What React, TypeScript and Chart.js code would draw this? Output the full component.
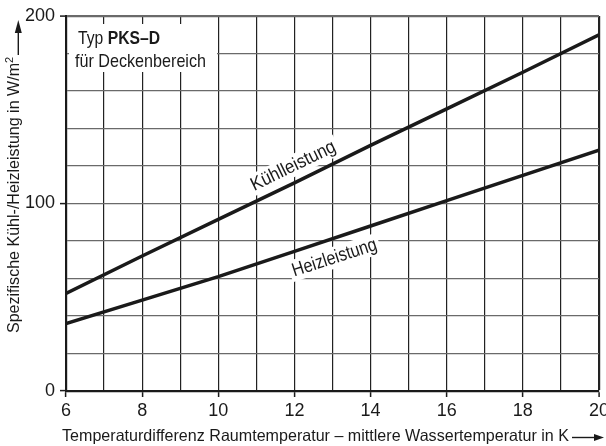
import React, { useEffect, useRef } from 'react';
import { Chart, registerables } from 'chart.js';

Chart.register(...registerables);

// ---- data ----
const xValues = [6, 8, 10, 12, 14, 16, 18, 20];
const kuehlValues = [52, 72, 91.5, 111, 131, 150.5, 170, 190];
const heizValues = [36, 48.5, 61, 74.5, 88, 101.5, 115, 128.5];
const xLabelStep = 2;
const yLabelStep = 100;
const boxTitleRegular = 'Typ ';
const boxTitleBold = 'PKS–D';
const boxSubtitle = 'für Deckenbereich';
const kuehlLabel = 'Kühlleistung';
const heizLabel = 'Heizleistung';
const xTitle = 'Temperaturdifferenz Raumtemperatur – mittlere Wassertemperatur in K';
const yTitle = 'Spezifische Kühl-/Heizleistung in W/m';
const yTitleSup = '2';

const FONT = "'Liberation Sans Narrow', 'Arial Narrow', 'Liberation Sans', Arial, sans-serif";
const INK = '#1a1a1a';

function drawFit(ctx: CanvasRenderingContext2D, text: string, x: number, y: number, targetW: number, font: string, align: CanvasTextAlign) {
  ctx.save();
  ctx.font = font;
  const w = ctx.measureText(text).width;
  const sx = targetW / w;
  ctx.translate(x, y);
  ctx.scale(sx, 1);
  ctx.textAlign = align;
  ctx.textBaseline = 'alphabetic';
  ctx.fillText(text, 0, 0);
  ctx.restore();
}

function interp(xs: number[], ys: number[], x: number) {
  for (let i = 0; i < xs.length - 1; i++) {
    if (x >= xs[i] && x <= xs[i + 1]) {
      const t = (x - xs[i]) / (xs[i + 1] - xs[i]);
      return ys[i] + t * (ys[i + 1] - ys[i]);
    }
  }
  return ys[ys.length - 1];
}

function drawLineLabel(chart: any, text: string, ys: number[], atX: number, offset: number, targetW: number) {
  const ctx: CanvasRenderingContext2D = chart.ctx;
  const xs = chart.scales.x;
  const yS = chart.scales.y;
  const x0 = xs.getPixelForValue(xValues[0]);
  const x1 = xs.getPixelForValue(xValues[xValues.length - 1]);
  const y0 = yS.getPixelForValue(ys[0]);
  const y1 = yS.getPixelForValue(ys[ys.length - 1]);
  const ang = Math.atan2(y1 - y0, x1 - x0);
  const px = xs.getPixelForValue(atX);
  const py = yS.getPixelForValue(interp(xValues, ys, atX));
  const nx = Math.sin(ang);
  const ny = -Math.cos(ang);
  const cx = px + nx * offset;
  const cy = py + ny * offset;
  const capH = 13.5;
  ctx.save();
  ctx.translate(cx, cy);
  ctx.rotate(ang);
  ctx.fillStyle = '#ffffff';
  ctx.fillRect(-targetW / 2 - 3, -capH / 2 - 3, targetW + 6, capH + 8);
  ctx.fillStyle = INK;
  drawFit(ctx, text, 0, capH / 2, targetW, `19px ${FONT}`, 'center');
  ctx.restore();
}

const decorPlugin = {
  id: 'decor',
  beforeDatasetsDraw(chart: any) {
    const ctx: CanvasRenderingContext2D = chart.ctx;
    // info box
    ctx.save();
    ctx.fillStyle = '#ffffff';
    ctx.fillRect(69, 24, 148, 48);
    ctx.fillStyle = INK;
    const regFont = `19px ${FONT}`;
    const boldFont = `bold 19px ${FONT}`;
    const scale = 0.88;
    ctx.font = regFont;
    const wReg = ctx.measureText(boxTitleRegular).width * scale;
    ctx.font = boldFont;
    const wBold = ctx.measureText(boxTitleBold).width * scale;
    const k = 82 / (wReg + wBold);
    drawFit(ctx, boxTitleRegular, 78, 44, wReg * k, regFont, 'left');
    drawFit(ctx, boxTitleBold, 78 + wReg * k, 44, wBold * k, boldFont, 'left');
    drawFit(ctx, boxSubtitle, 75, 67, 131, regFont, 'left');
    ctx.restore();

    drawLineLabel(chart, kuehlLabel, kuehlValues, 12.15, 17, 92);
    drawLineLabel(chart, heizLabel, heizValues, 12.9, -17.5, 88);
  },
  afterDraw(chart: any) {
    const ctx: CanvasRenderingContext2D = chart.ctx;
    ctx.save();
    ctx.fillStyle = INK;
    ctx.strokeStyle = INK;
    // x title
    const tf = `16.5px ${FONT}`;
    drawFit(ctx, xTitle, 62, 441, 507, tf, 'left');
    // x arrow
    ctx.lineWidth = 1.4;
    ctx.beginPath();
    ctx.moveTo(572, 437.5);
    ctx.lineTo(596, 437.5);
    ctx.stroke();
    ctx.beginPath();
    ctx.moveTo(604, 437.5);
    ctx.lineTo(594, 434);
    ctx.lineTo(594, 441);
    ctx.closePath();
    ctx.fill();

    // y title
    ctx.save();
    ctx.translate(18.5, 333);
    ctx.rotate(-Math.PI / 2);
    drawFit(ctx, yTitle, 0, 0, 270, tf, 'left');
    ctx.font = `11px ${FONT}`;
    ctx.textAlign = 'left';
    ctx.fillText(yTitleSup, 270, -6);
    ctx.restore();
    // y arrow
    ctx.beginPath();
    ctx.moveTo(18.3, 55);
    ctx.lineTo(18.3, 30);
    ctx.stroke();
    ctx.beginPath();
    ctx.moveTo(18.3, 20);
    ctx.lineTo(14.8, 33);
    ctx.lineTo(21.8, 33);
    ctx.closePath();
    ctx.fill();
    ctx.restore();
  },
};

export default function App() {
  const ref = useRef<HTMLCanvasElement | null>(null);
  useEffect(() => {
    if (!ref.current) return;
    const chart = new Chart(ref.current, {
      type: 'line',
      data: {
        datasets: [
          {
            label: kuehlLabel,
            data: xValues.map((x, i) => ({ x, y: kuehlValues[i] })),
            borderColor: INK,
            borderWidth: 3.5,
            pointRadius: 0,
            tension: 0,
          },
          {
            label: heizLabel,
            data: xValues.map((x, i) => ({ x, y: heizValues[i] })),
            borderColor: INK,
            borderWidth: 3.5,
            pointRadius: 0,
            tension: 0,
          },
        ],
      },
      options: {
        animation: false,
        responsive: false,
        devicePixelRatio: 1,
        layout: { padding: { top: 16, right: 7, left: 0, bottom: 0 } },
        plugins: { legend: { display: false }, tooltip: { enabled: false } },
        scales: {
          x: {
            type: 'linear',
            min: 6,
            max: 20,
            afterFit: (s: any) => {
              s.height = 55;
              s.paddingLeft = 0;
              s.paddingRight = 0;
            },
            ticks: {
              stepSize: 1,
              autoSkip: false,
              maxRotation: 0,
              padding: 3,
              color: INK,
              font: { family: FONT, size: 18 },
              callback: (v: any) => (Number(v) % xLabelStep === 0 ? String(v) : ''),
            },
            grid: {
              color: '#222222',
              lineWidth: (c: any) => (c.tick && c.tick.value === 20 ? 2.2 : 1.2),
              tickLength: 6,
              tickWidth: 1.5,
              tickColor: (c: any) => (c.tick && c.tick.value % xLabelStep === 0 ? INK : 'rgba(0,0,0,0)'),
            },
            border: { color: INK, width: 2.2 },
          },
          y: {
            type: 'linear',
            min: 0,
            max: 200,
            afterFit: (s: any) => {
              s.width = 66;
              s.paddingTop = 0;
              s.paddingBottom = 0;
            },
            ticks: {
              stepSize: 20,
              padding: 5,
              color: INK,
              font: { family: FONT, size: 18 },
              callback: (v: any) => (Number(v) % yLabelStep === 0 ? String(v) : ''),
            },
            grid: {
              color: '#6a6a6a',
              lineWidth: (c: any) => (c.tick && c.tick.value === 200 ? 2.2 : 1.2),
              tickLength: 6,
              tickWidth: 1.5,
              tickColor: (c: any) => (c.tick && c.tick.value % yLabelStep === 0 ? INK : 'rgba(0,0,0,0)'),
            },
            border: { color: INK, width: 2.2 },
          },
        },
      },
      plugins: [decorPlugin],
    } as any);
    return () => chart.destroy();
  }, []);
  return (
    <div style={{ position: 'fixed', left: 0, top: 0, width: 606, height: 446, background: '#fff' }}>
      <canvas ref={ref} width={606} height={446} style={{ display: 'block' }} />
    </div>
  );
}
